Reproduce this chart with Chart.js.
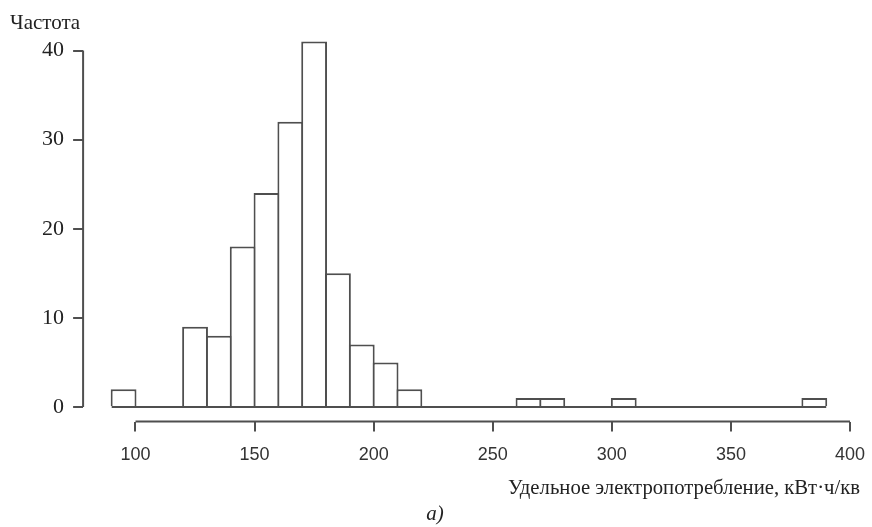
<!DOCTYPE html>
<html><head><meta charset="utf-8">
<script src="https://cdn.jsdelivr.net/npm/chart.js@4/dist/chart.umd.min.js"></script>
<style>html,body{margin:0;padding:0;background:#fff;overflow:hidden}canvas{display:block}</style>
</head><body>
<canvas id="c" width="872" height="527"></canvas>
<script>
// ---- data ----
const binStarts = [90,100,110,120,130,140,150,160,170,180,190,200,210,220,230,240,250,260,270,280,290,300,310,320,330,340,350,360,370,380];
const binWidth = 10;
const counts    = [2, 0, 0, 9, 8,18,24,32,41,15, 7, 5, 2, 0, 0, 0, 0, 1, 1, 0, 0, 1, 0, 0, 0, 0, 0, 0, 0, 1];
const xTicks = [100,150,200,250,300,350,400];
const yTicks = [0,10,20,30,40];
const yLabel = 'Частота';
const xLabel = 'Удельное электропотребление, кВт·ч/кв';
const caption = 'а)';

// ---- derived ----
const barData = binStarts.map((s,i)=>({x:s+binWidth/2, y:counts[i]}));
const firstEdge = binStarts[0], lastEdge = binStarts[binStarts.length-1]+binWidth;
const baseline = [{x:firstEdge,y:0},{x:lastEdge,y:0}];
const xr = lastEdge-firstEdge, yMax = Math.max(...counts);

const lineColor = '#4f4f4f';
const textColor = '#222';

const extras = {
  id:'extras',
  afterDraw(chart){
    const {ctx, chartArea, scales:{x,y}} = chart;
    ctx.save();
    ctx.strokeStyle = lineColor; ctx.lineWidth = 2;
    ctx.beginPath();
    ctx.moveTo(x.getPixelForValue(xTicks[0]), chartArea.bottom);
    ctx.lineTo(x.getPixelForValue(xTicks[xTicks.length-1]), chartArea.bottom);
    ctx.moveTo(chartArea.left, y.getPixelForValue(yTicks[0]));
    ctx.lineTo(chartArea.left, y.getPixelForValue(yTicks[yTicks.length-1]));
    ctx.stroke();
    ctx.fillStyle = textColor;
    ctx.textBaseline = 'alphabetic';
    ctx.font = '21px "Liberation Serif"';
    ctx.textAlign = 'left';
    ctx.fillText(yLabel, 10, 29);
    ctx.font = '20.7px "Liberation Serif"';
    ctx.textAlign = 'right';
    ctx.fillText(xLabel, 860, 494);
    ctx.font = 'italic 21px "Liberation Serif"';
    ctx.textAlign = 'center';
    ctx.fillText(caption, 435, 520);
    ctx.restore();
  }
};

new Chart(document.getElementById('c'), {
  type:'bar',
  data:{
    datasets:[
      {type:'bar', data:barData, backgroundColor:'#fff', borderColor:lineColor, borderWidth:2,
       borderSkipped:'start', categoryPercentage:1, barPercentage:1.084, order:2},
      {type:'line', data:baseline, borderColor:lineColor, borderWidth:2, pointRadius:0, order:1}
    ]
  },
  options:{
    responsive:false, animation:false, devicePixelRatio:1,
    layout:{autoPadding:false, padding:{left:0, right:17.2, top:27, bottom:0}},
    plugins:{legend:{display:false}, tooltip:{enabled:false}},
    scales:{
      x:{type:'linear', offset:false, min:firstEdge-0.04*xr, max:lastEdge+0.04*xr,
         afterBuildTicks:s=>{s.ticks = xTicks.map(v=>({value:v}));},
         afterFit:s=>{s.height = 105.4; s.paddingLeft = 0; s.paddingRight = 0;},
         border:{display:false},
         grid:{offset:false, drawOnChartArea:false, drawTicks:true, tickLength:10, color:lineColor, lineWidth:2},
         ticks:{font:{family:'Liberation Sans', size:18}, color:'#333', padding:13, maxRotation:0, autoSkip:false}},
      y:{type:'linear', min:-0.04*yMax, max:yMax*1.04,
         afterBuildTicks:s=>{s.ticks = yTicks.map(v=>({value:v}));},
         afterFit:s=>{s.width = 83.1; s.paddingTop = 0; s.paddingBottom = 0;},
         border:{display:false},
         grid:{offset:false, drawOnChartArea:false, drawTicks:true, tickLength:10, color:lineColor, lineWidth:2},
         ticks:{font:{family:'Liberation Serif', size:22}, color:textColor, padding:9}}
    }
  },
  plugins:[extras]
});
</script>
</body></html>
